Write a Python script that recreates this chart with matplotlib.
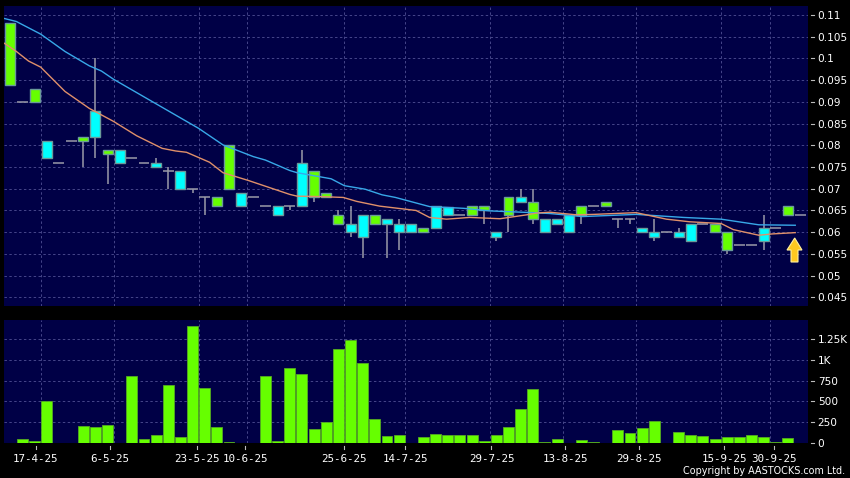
import numpy as np
import matplotlib
matplotlib.use("Agg")
import matplotlib.pyplot as plt
from matplotlib.patches import Polygon

# candles: body top, body bottom, high, low, colour ("g", "c", or "d" for flat days)
body_top = [0.1081, 0.09, 0.093, 0.081, 0.076, 0.081, 0.082, 0.088, 0.079, 0.079, 0.077,
            0.076, 0.076, 0.074, 0.074, 0.07, 0.068, 0.068, 0.08, 0.069, 0.068, 0.066,
            0.066, 0.066, 0.076, 0.074, 0.069, 0.064, 0.062, 0.064, 0.064, 0.063, 0.062,
            0.062, 0.061, 0.066, 0.0657, 0.064, 0.066, 0.066, 0.06, 0.068, 0.068, 0.067,
            0.063, 0.063, 0.064, 0.066, 0.066, 0.067, 0.063, 0.063, 0.061, 0.06, 0.06,
            0.06, 0.062, 0.062, 0.062, 0.06, 0.057, 0.057, 0.061, 0.061, 0.066, 0.064]
body_bot = [0.094, 0.09, 0.09, 0.077, 0.076, 0.081, 0.081, 0.082, 0.078, 0.076, 0.077,
            0.076, 0.075, 0.074, 0.07, 0.07, 0.068, 0.066, 0.07, 0.066, 0.068, 0.066,
            0.064, 0.066, 0.066, 0.068, 0.068, 0.062, 0.06, 0.059, 0.062, 0.062, 0.06,
            0.06, 0.06, 0.061, 0.064, 0.064, 0.064, 0.065, 0.059, 0.064, 0.067, 0.063,
            0.06, 0.062, 0.06, 0.064, 0.066, 0.066, 0.063, 0.063, 0.06, 0.059, 0.06,
            0.059, 0.058, 0.062, 0.06, 0.056, 0.057, 0.057, 0.058, 0.061, 0.064, 0.064]
high = [0.1081, 0.09, 0.093, 0.081, 0.076, 0.081, 0.082, 0.1, 0.079, 0.079, 0.077,
        0.076, 0.077, 0.075, 0.074, 0.07, 0.068, 0.068, 0.08, 0.069, 0.068, 0.066,
        0.066, 0.066, 0.079, 0.074, 0.069, 0.065, 0.066, 0.064, 0.064, 0.063, 0.063,
        0.062, 0.061, 0.066, 0.0657, 0.064, 0.066, 0.066, 0.06, 0.068, 0.07, 0.07,
        0.063, 0.063, 0.064, 0.066, 0.066, 0.067, 0.063, 0.063, 0.061, 0.063, 0.06,
        0.061, 0.062, 0.062, 0.062, 0.06, 0.057, 0.057, 0.064, 0.061, 0.066, 0.064]
low = [0.094, 0.09, 0.09, 0.077, 0.076, 0.081, 0.075, 0.077, 0.071, 0.076, 0.077,
       0.076, 0.075, 0.07, 0.07, 0.069, 0.064, 0.066, 0.07, 0.066, 0.068, 0.066,
       0.064, 0.065, 0.066, 0.067, 0.068, 0.062, 0.059, 0.054, 0.062, 0.054, 0.056,
       0.06, 0.06, 0.061, 0.064, 0.064, 0.064, 0.062, 0.058, 0.06, 0.067, 0.062,
       0.06, 0.062, 0.06, 0.062, 0.066, 0.066, 0.061, 0.062, 0.06, 0.058, 0.06,
       0.059, 0.058, 0.062, 0.06, 0.055, 0.057, 0.057, 0.056, 0.061, 0.064, 0.064]
kinds = ["g", "d", "g", "c", "d", "d", "g", "c", "g", "c", "d",
         "d", "c", "d", "c", "d", "d", "g", "g", "c", "d", "d",
         "c", "d", "c", "g", "g", "g", "c", "c", "g", "c", "c",
         "c", "g", "c", "c", "d", "g", "g", "c", "g", "c", "g",
         "c", "c", "c", "g", "d", "g", "d", "d", "c", "c", "d",
         "c", "c", "d", "g", "g", "d", "d", "c", "d", "g", "d"]

volume = [0, 48, 24, 500, 5, 0, 206, 194, 218, 0, 798, 48, 103, 698, 79, 1405, 659, 198,
          12, 0, 0, 798, 28, 897, 825, 171, 258, 1131, 1238, 956, 290, 91, 99, 0, 79,
          107, 95, 95, 95, 28, 103, 198, 412, 647, 16, 52, 4, 40, 12, 4, 163, 123, 183,
          266, 0, 131, 95, 83, 52, 79, 79, 99, 71, 12, 67, 0]

# moving averages, vertices
blue_x = [-0.5, 0.5, 2.5, 4.5, 6.5, 7.5, 8.5, 15.5, 17.5, 20, 21, 23, 23.6, 26.4, 27.5,
          29.2, 30.6, 31.7, 34.5, 37.3, 39.5, 43, 44.4, 47.1, 51.5, 55.4, 58.5, 61.6, 64.6]
blue_y = [0.1092, 0.1085, 0.1056, 0.1016, 0.0983, 0.0971, 0.0952, 0.0839, 0.0801, 0.0774,
          0.0766, 0.0742, 0.0737, 0.0723, 0.0707, 0.0699, 0.0686, 0.068, 0.0659, 0.0655,
          0.0649, 0.0645, 0.0643, 0.0636, 0.0641, 0.0634, 0.063, 0.0617, 0.0616]
orange_x = [-0.5, 0.5, 1.5, 2.5, 4.5, 6.5, 8.5, 10.4, 12.5, 13.6, 14.5, 16.4, 17.5, 19.6,
            23, 23.6, 25.5, 27.4, 28.5, 30.4, 33.4, 34.5, 35.9, 37.8, 40.3, 42.5, 43.3,
            44.4, 46.6, 48, 51.5, 54, 55.9, 58.5, 59.5, 61.6, 62.7, 64.6]
orange_y = [0.1035, 0.1016, 0.0994, 0.098, 0.0924, 0.0885, 0.0855, 0.0822, 0.0793, 0.0787,
            0.0784, 0.0761, 0.0737, 0.0719, 0.0687, 0.0683, 0.0682, 0.068, 0.0671, 0.066,
            0.065, 0.0634, 0.063, 0.0634, 0.0631, 0.064, 0.0644, 0.0646, 0.064, 0.0641,
            0.0645, 0.063, 0.0624, 0.062, 0.0606, 0.0593, 0.0596, 0.0599]

price_ticks = [0.045, 0.05, 0.055, 0.06, 0.065, 0.07, 0.075, 0.08, 0.085, 0.09, 0.095, 0.1, 0.105, 0.11]
price_labels = ["0.045", "0.05", "0.055", "0.06", "0.065", "0.07", "0.075", "0.08", "0.085",
                "0.09", "0.095", "0.1", "0.105", "0.11"]
vol_ticks = [0, 250, 500, 750, 1000, 1250]
vol_labels = ["0", "250", "500", "750", "1K", "1.25K"]
date_ticks = [2.1, 8.2, 15.35, 19.35, 27.45, 32.5, 39.6, 45.65, 51.7, 58.75, 62.85]
date_labels = ["17-4-25", "6-5-25", "23-5-25", "10-6-25", "25-6-25", "14-7-25",
               "29-7-25", "13-8-25", "29-8-25", "15-9-25", "30-9-25"]
grid_x = [2.5, 8.5, 15.5, 19.5, 27.5, 32.5, 39.5, 45.5, 51.5, 58.5, 62.5]

NAVY = "#000046"
GREEN = "#66ff00"
CYAN = "#00ffff"
GRIDC = "#46468a"
TICKC = "#bbbbbb"
W, H = 850, 478


def panel(left, top, right, bottom):
    return fig.add_axes([left / W, 1 - bottom / H, (right - left) / W, (bottom - top) / H])


def style(ax, yticks, ylabels):
    ax.set_facecolor(NAVY)
    for s in ax.spines.values():
        s.set_visible(False)
    ax.yaxis.tick_right()
    ax.set_xlim(-0.52, 65.65)
    ax.grid(True, color=GRIDC, linestyle=(0, (2.5, 2.5)), linewidth=0.7)
    ax.set_axisbelow(True)
    ax.tick_params(colors="white", labelsize=7.6, length=0, pad=7)
    ax.set_yticks(yticks)
    ax.set_yticklabels(ylabels)
    # short tick marks sit a little off the panel edge
    for t in yticks:
        ax.plot([1.004, 1.0078], [t, t], transform=ax.get_yaxis_transform(),
                color=TICKC, linewidth=0.8, clip_on=False)


plt.rcParams["font.family"] = "DejaVu Sans"
fig = plt.figure(figsize=(W / 100, H / 100), dpi=100, facecolor="black")

ax = panel(4, 6, 808, 306)
ax.set_ylim(0.11 - (306 - 15) * 0.005 / 21.72, 0.11 + 9 * 0.005 / 21.72)
style(ax, price_ticks, price_labels)
ax.set_xticks(grid_x)
ax.set_xticklabels([])

xs = np.arange(len(volume))
ax.vlines(xs, low, high, color="#9a9aa8", linewidth=1.1, zorder=2)
for i, k in enumerate(kinds):
    if k == "d":
        ax.hlines(body_top[i], i - 0.45, i + 0.45, color="#9a9aa8", linewidth=1.1, zorder=2)
    else:
        ax.bar(i, body_top[i] - body_bot[i], bottom=body_bot[i], width=0.82,
               color=GREEN if k == "g" else CYAN, edgecolor="#6a9a9a", linewidth=1.0, zorder=3)
ax.plot(blue_x, blue_y, color="#38a8e8", linewidth=1.0, zorder=4)
ax.plot(orange_x, orange_y, color="#e0906a", linewidth=1.0, zorder=4)

# yellow arrow under the last candle, in pixel units of the panel
arrow_x = np.array([794.7, 802, 798, 798, 791, 791, 787])
arrow_y = np.array([238, 250, 250, 262, 262, 250, 250])
ax.add_patch(Polygon(np.column_stack([(arrow_x - 4) / 804, 1 - (arrow_y - 6) / 300]),
                     closed=True, transform=ax.transAxes, facecolor="#ffc820",
                     edgecolor="#fff0a0", linewidth=0.8, zorder=5))

ax2 = panel(4, 320, 808, 443.3)
ax2.set_ylim(0, 123.3 / 20.93 * 250)
style(ax2, vol_ticks, vol_labels)
ax2.bar(xs, volume, width=0.9, color=GREEN, edgecolor="#55aa22", linewidth=0.6, zorder=3)
ax2.xaxis.grid(False)
ax2.set_xticks(date_ticks)
ax2.set_xticklabels(date_labels, family="DejaVu Sans Mono", fontsize=7.8)
ax2.tick_params(axis="x", pad=7.5)
for d in date_ticks:
    ax2.plot([d, d], [-0.022, -0.046], transform=ax2.get_xaxis_transform(),
             color=TICKC, linewidth=0.8, clip_on=False)
for gx in grid_x:
    ax2.axvline(gx, color=GRIDC, linestyle=(0, (2.5, 2.5)), linewidth=0.7, zorder=1)

fig.text(845.5 / W, 1 - 471 / H, "Copyright by AASTOCKS.com Ltd.", color="white",
         fontsize=6.9, ha="right", va="center")

fig.savefig("out.png", dpi=100, facecolor="black")
